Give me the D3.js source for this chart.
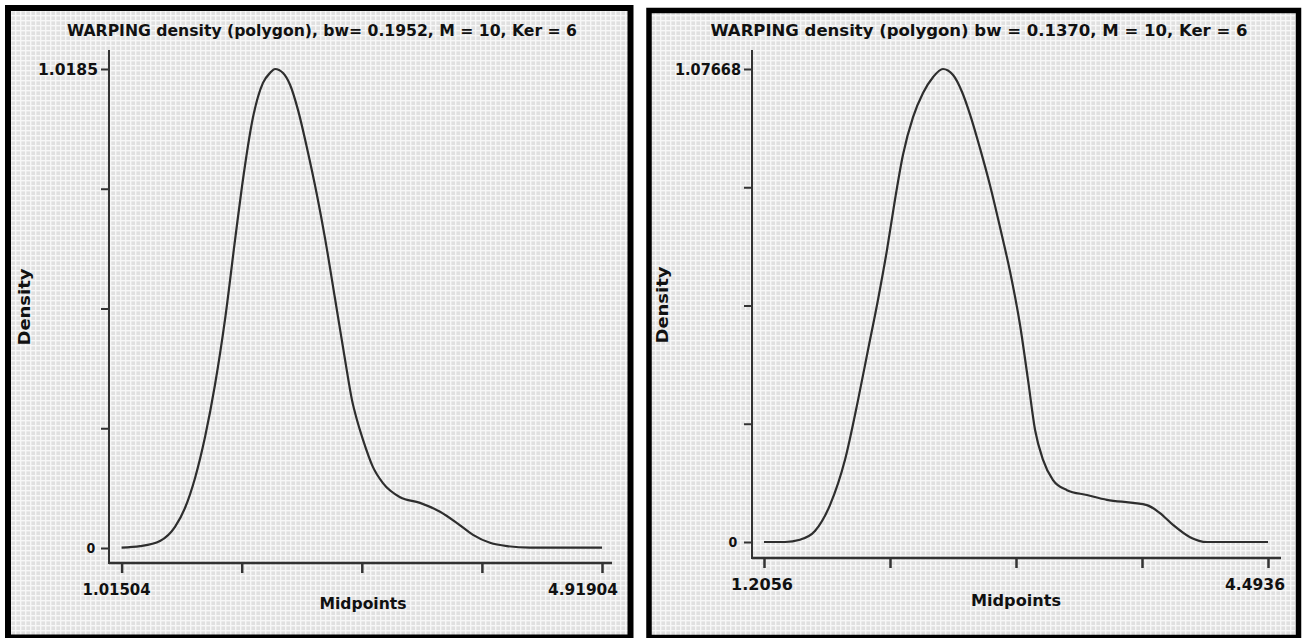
<!DOCTYPE html>
<html>
<head>
<meta charset="utf-8">
<script src="https://cdn.jsdelivr.net/npm/d3@7/dist/d3.min.js"></script>
<style>
html,body{margin:0;padding:0;background:#fff;}
svg{display:block;}
text{font-family:"DejaVu Sans Condensed","DejaVu Sans",Verdana,sans-serif;font-weight:bold;fill:#111;}
</style>
</head>
<body>
<svg id="c" width="1302" height="638"></svg>
<script>
// ---------- data ----------
const leftTitle = "WARPING density (polygon), bw= 0.1952, M = 10, Ker = 6";
const rightTitle = "WARPING density (polygon)  bw = 0.1370, M = 10, Ker = 6";
const xLabel = "Midpoints";
const yLabel = "Density";

const leftXDomain = [1.01504, 4.91904];
const leftYMax = 1.0185;
const leftXTickLabels = ["1.01504", "4.91904"];
const leftYTickLabels = ["0", "1.0185"];
const leftMid = [1.01504,1.165,1.327,1.449,1.530,1.612,1.693,1.774,1.855,1.937,1.993,2.083,2.164,2.221,2.262,2.327,2.384,2.449,2.522,2.603,2.668,2.749,2.831,2.887,2.928,2.977,3.058,3.139,3.278,3.440,3.603,3.741,3.871,4.009,4.147,4.334,4.91904];
const leftDens = [0.001,0.004,0.015,0.045,0.085,0.149,0.236,0.347,0.485,0.655,0.768,0.916,0.989,1.010,1.0185,1.010,0.985,0.931,0.850,0.750,0.659,0.531,0.400,0.315,0.272,0.230,0.172,0.138,0.108,0.096,0.077,0.053,0.028,0.011,0.004,0.001,0.001];

const rightXDomain = [1.2056, 4.4936];
const rightYMax = 1.07668;
const rightXTickLabels = ["1.2056", "4.4936"];
const rightYTickLabels = ["0", "1.07668"];
const rightMid = [1.2056,1.343,1.440,1.538,1.636,1.734,1.819,1.884,1.949,2.008,2.060,2.112,2.178,2.243,2.308,2.373,2.439,2.497,2.550,2.615,2.680,2.745,2.811,2.876,2.928,2.974,3.026,3.091,3.182,3.313,3.443,3.613,3.704,3.789,3.874,3.985,4.096,4.4936];
const rightDens = [0.0,0.0,0.005,0.025,0.084,0.187,0.323,0.437,0.551,0.665,0.779,0.881,0.967,1.022,1.058,1.07668,1.063,1.025,0.973,0.896,0.812,0.717,0.615,0.494,0.369,0.255,0.187,0.141,0.118,0.107,0.096,0.089,0.084,0.066,0.039,0.011,0.0,0.0];

// ---------- drawing ----------
const svg = d3.select("#c");
const defs = svg.append("defs");
const pat = defs.append("pattern").attr("id","bg").attr("width",5).attr("height",5)
  .attr("patternUnits","userSpaceOnUse");
pat.append("rect").attr("width",5).attr("height",5).attr("fill","#e0e0e0");
pat.append("rect").attr("x",0).attr("y",0).attr("width",5).attr("height",1.4).attr("fill","#f7f7f7");
pat.append("rect").attr("x",0).attr("y",0).attr("width",1.4).attr("height",5).attr("fill","#f7f7f7");

function panel(cfg){
  const g = svg.append("g");
  g.append("rect").attr("x",cfg.box[0]).attr("y",cfg.box[1]).attr("width",cfg.box[2]).attr("height",cfg.box[3])
    .attr("fill","url(#bg)").attr("stroke","#000").attr("stroke-width",cfg.bw);

  const x = d3.scaleLinear().domain(cfg.xDomain).range(cfg.xRange);
  const y = d3.scaleLinear().domain([0, cfg.yMax]).range(cfg.yRange);

  // title
  g.append("text").attr("x",cfg.titleX).attr("y",36).attr("text-anchor","middle")
    .attr("font-size",16).attr("textLength",cfg.titleLen).attr("lengthAdjust","spacingAndGlyphs")
    .text(cfg.title);

  // axis lines
  g.append("line").attr("x1",cfg.axX).attr("x2",cfg.axX).attr("y1",50).attr("y2",cfg.axY+1)
    .attr("stroke","#333").attr("stroke-width",2);
  g.append("line").attr("x1",cfg.axX).attr("x2",cfg.axXEnd).attr("y1",cfg.axY).attr("y2",cfg.axY)
    .attr("stroke","#333").attr("stroke-width",2.5);

  // y axis ticks
  const yTicks = d3.range(5).map(i => cfg.yMax*i/4);
  const ya = d3.axisLeft(y).tickValues(yTicks).tickSize(8).tickSizeOuter(0).tickFormat("");
  const yg = g.append("g").attr("transform",`translate(${cfg.axX},0)`).call(ya);
  yg.select(".domain").remove();
  yg.selectAll(".tick line").attr("stroke","#333").attr("stroke-width",2);

  // x axis ticks
  const xTicks = d3.range(5).map(i => cfg.xDomain[0] + (cfg.xDomain[1]-cfg.xDomain[0])*i/4);
  const xa = d3.axisBottom(x).tickValues(xTicks).tickSize(10).tickSizeOuter(0).tickFormat("");
  const xg = g.append("g").attr("transform",`translate(0,${cfg.axY})`).call(xa);
  xg.select(".domain").remove();
  xg.selectAll(".tick line").attr("stroke","#333").attr("stroke-width",2.5);

  // y tick labels
  g.append("text").attr("x",cfg.y0LabelX).attr("y",y(0)+5).attr("text-anchor","middle")
    .attr("font-size",14).text(cfg.yTickLabels[0]);
  g.append("text").attr("x",cfg.axX-11).attr("y",y(cfg.yMax)+6).attr("text-anchor","end")
    .attr("font-size",15).attr("textLength",cfg.yTopLen).attr("lengthAdjust","spacingAndGlyphs")
    .text(cfg.yTickLabels[1]);

  // x tick labels
  g.append("text").attr("x",x(cfg.xDomain[0])+cfg.xl0dx).attr("y",cfg.xLabY).attr("text-anchor","middle")
    .attr("font-size",15).attr("textLength",cfg.xLabLen[0]).attr("lengthAdjust","spacingAndGlyphs")
    .text(cfg.xTickLabels[0]);
  g.append("text").attr("x",x(cfg.xDomain[1])+cfg.xl1dx).attr("y",cfg.xLabY).attr("text-anchor","middle")
    .attr("font-size",15).attr("textLength",cfg.xLabLen[1]).attr("lengthAdjust","spacingAndGlyphs")
    .text(cfg.xTickLabels[1]);

  // axis titles
  g.append("text").attr("x",cfg.midX).attr("y",cfg.midY).attr("text-anchor","middle")
    .attr("font-size",15).attr("textLength",cfg.midLen).attr("lengthAdjust","spacingAndGlyphs").text(xLabel);
  g.append("text").attr("transform",`translate(${cfg.densX},${cfg.densY}) rotate(-90)`).attr("text-anchor","middle")
    .attr("font-size",15).attr("textLength",77).attr("lengthAdjust","spacingAndGlyphs").text(yLabel);

  // curve
  const pts = cfg.mid.map((m,i)=>[m,cfg.dens[i]]);
  const line = d3.line().x(d=>x(d[0])).y(d=>y(d[1])).curve(d3.curveMonotoneX);
  g.append("path").attr("d",line(pts)).attr("fill","none").attr("stroke","#2e2e2e").attr("stroke-width",2.2)
    .attr("stroke-linejoin","round");
}

panel({
  box:[8,8,622.5,629.5], bw:6,
  xDomain:leftXDomain, xRange:[121.6,602], yMax:leftYMax, yRange:[548,69],
  title:leftTitle, titleX:322, titleLen:510,
  axX:109, axY:563, axXEnd:612,
  yTickLabels:leftYTickLabels, y0LabelX:91, yTopLen:60,
  xTickLabels:leftXTickLabels, xl0dx:-5, xl1dx:-19, xLabY:595, xLabLen:[68,70],
  midX:363, midY:609, midLen:87, densX:30, densY:307,
  mid:leftMid, dens:leftDens
});
panel({
  box:[649,10.5,649.5,627], bw:5.5,
  xDomain:rightXDomain, xRange:[764,1268], yMax:rightYMax, yRange:[542,69],
  title:rightTitle, titleX:979, titleLen:537,
  axX:752, axY:558, axXEnd:1281,
  yTickLabels:rightYTickLabels, y0LabelX:733, yTopLen:66,
  xTickLabels:rightXTickLabels, xl0dx:-2, xl1dx:-13, xLabY:590, xLabLen:[62,60],
  midX:1016, midY:606, midLen:90, densX:668, densY:305,
  mid:rightMid, dens:rightDens
});
</script>
</body>
</html>
